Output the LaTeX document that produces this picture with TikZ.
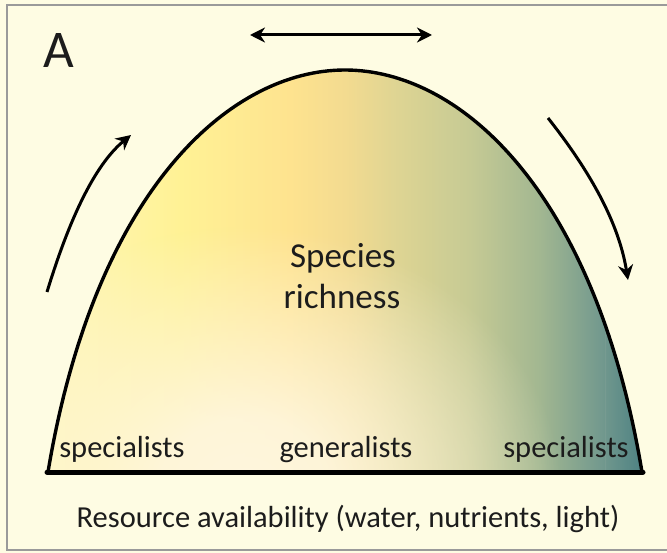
\documentclass[tikz,border=0pt]{standalone}
\usepackage{fontspec}
\setmainfont{Carlito}
\usetikzlibrary{arrows.meta,fadings}

\definecolor{paper}{HTML}{FEFCE3}
\definecolor{framegray}{HTML}{9A9A9A}
\definecolor{ink}{HTML}{1C1C1C}
\definecolor{glowcol}{HTML}{FEF6DE}
\definecolor{h0}{HTML}{FFF6B8}
\definecolor{h1}{HTML}{FFF295}
\definecolor{h2}{HTML}{FEE38F}
\definecolor{h3}{HTML}{F3DB90}
\definecolor{h4}{HTML}{DDD493}
\definecolor{h5}{HTML}{C6CA94}
\definecolor{h6}{HTML}{A2B791}
\definecolor{h7}{HTML}{73998E}
\definecolor{h8}{HTML}{4E8283}

% left-to-right colour ramp of the hump (25bp..75bp spans the filled area)
\pgfdeclarehorizontalshading{humpshade}{100bp}{%
  color(0bp)=(h0); color(25bp)=(h0); color(36.1bp)=(h1); color(45.4bp)=(h2);
  color(50bp)=(h3); color(54.6bp)=(h4); color(60.5bp)=(h5); color(66.4bp)=(h6);
  color(71.5bp)=(h7); color(75bp)=(h8); color(100bp)=(h8)}

% opacity profile of the glow: bright centre, fully clear well before the edge
\pgfdeclareradialshading{glowshade}{\pgfpoint{0bp}{0bp}}{%
  rgb(0bp)=(1,1,1); rgb(6bp)=(.92,.92,.92); rgb(22bp)=(0,0,0); rgb(50bp)=(0,0,0)}

% soft pale glow towards the lower part of the hump
\begin{tikzfadingfrompicture}[name=lowglow]
  \shade[shading=glowshade] (-360pt,-300pt) rectangle (360pt,300pt);
\end{tikzfadingfrompicture}

\tikzset{
  outline/.style={draw=black, line width=3.4pt},
  baseline rule/.style={draw=black, line width=5pt, line cap=round},
  arr/.style={draw=black, line width=3pt, -{Stealth[length=15pt,width=15pt]}},
  dblarr/.style={draw=black, line width=3pt, {Stealth[length=15pt,width=15pt]}-{Stealth[length=15pt,width=15pt]}},
  lbl/.style={text=ink, inner sep=0pt, anchor=base},
  framepen/.style={draw=framegray, line width=2pt}
}

\begin{document}
\begin{tikzpicture}[x=1pt, y=-1pt]
  \useasboundingbox (0,0) rectangle (667,553);
  \fill[paper] (0,0) rectangle (667,553);
  \draw[framepen] (667,5) -- (7,5) -- (7,550) -- (667,550);

  % filled hump
  \shade[shading=humpshade]
    (48,472) .. controls (95,190) and (230,70) .. (345,70)
             .. controls (460,70) and (595,190) .. (642,472) -- cycle;
  \begin{scope}
    \clip (48,472) .. controls (95,190) and (230,70) .. (345,70)
                   .. controls (460,70) and (595,190) .. (642,472) -- cycle;
    \fill[glowcol, path fading=lowglow, fit fading=false,
          fading transform={shift={(245,490)}}] (40,60) rectangle (650,480);
  \end{scope}
  \draw[outline]
    (48,472) .. controls (95,190) and (230,70) .. (345,70)
             .. controls (460,70) and (595,190) .. (642,472);
  \coordinate (baseL) at (47,472);
  \coordinate (baseR) at (643,472);
  \draw[baseline rule] (baseL) -- (baseR);

  % arrows
  \coordinate (topL) at (250,35);
  \coordinate (topR) at (432,35);
  \draw[dblarr] (topL) -- (topR);
  \coordinate (upStart) at (47,292);
  \coordinate (upEnd) at (131,135);
  \draw[arr] (upStart) .. controls (72,210) and (98,162) .. (upEnd);
  \coordinate (downStart) at (548,118);
  \coordinate (downEnd) at (628,280);
  \draw[arr] (downStart) .. controls (585,165) and (618,218) .. (downEnd);

  % labels
  \node[lbl, font=\fontsize{53}{53}\selectfont] (panel) at (59,68) {A};
  \node[lbl, font=\fontsize{35}{41}\selectfont] (rich1) at (343,268) {Species};
  \node[lbl, font=\fontsize{35}{41}\selectfont] (rich2) at (342,309) {richness};
  \node[lbl, font=\fontsize{30.5}{34}\selectfont] (specL) at (122,457) {specialists};
  \node[lbl, font=\fontsize{30.5}{34}\selectfont] (gen) at (346,457) {generalists};
  \node[lbl, font=\fontsize{30.5}{34}\selectfont] (specR) at (566,457) {specialists};
  \node[lbl, font=\fontsize{30.5}{34}\selectfont] (axis) at (348,527) {Resource availability (water, nutrients, light)};
\end{tikzpicture}
\end{document}
